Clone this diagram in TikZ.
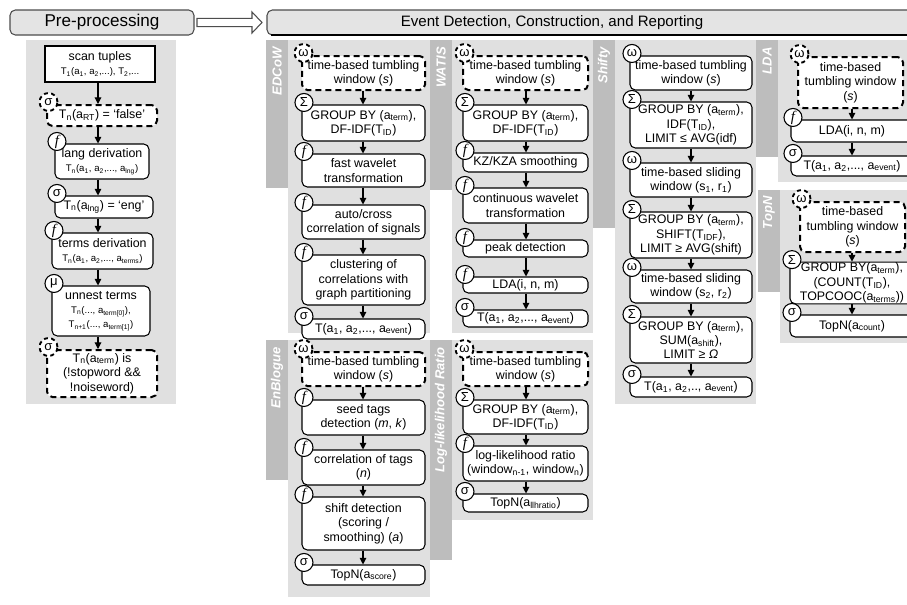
\documentclass[tikz,border=0pt]{standalone}
\usepackage{fontspec}
\setmainfont{Liberation Sans}
\newfontfamily\seriff{Liberation Serif}
\usetikzlibrary{arrows.meta}
\definecolor{panel}{HTML}{E0E0E0}
\definecolor{barc}{HTML}{BDBDBD}
\definecolor{hdr}{HTML}{E4E4E4}
\definecolor{hdrline}{HTML}{4D4D4D}
\newcommand\sml{\fontsize{7.2}{8.4}\selectfont}
\newcommand\sub[1]{\textsubscript{#1}}
\newcommand\ff{{\seriff\itshape\fontsize{11}{11}\selectfont f}}
\tikzset{
 box/.style={draw=black, fill=white, line width=0.8pt, rounded corners=4pt, align=center, inner sep=0.5pt, font=\fontsize{9.3}{10.8}\selectfont},
 sharpbox/.style={rounded corners=0pt},
 dbox/.style={line width=1.5pt, dash pattern=on 4.5pt off 3pt},
 hdrbox/.style={fill=hdr, draw=hdrline, font=\fontsize{12.8}{13}\selectfont},
 symc/.style={circle, draw=black, fill=white, line width=0.8pt, minimum size=13.5pt, inner sep=0pt, font=\fontsize{9.8}{9.8}\selectfont},
 dsym/.style={line width=1.4pt, dash pattern=on 3pt off 2.5pt},
 arr/.style={line width=0.8pt, -{Triangle[length=5pt,width=5pt]}},
 lbl/.style={rotate=90, anchor=east, text=white, inner sep=0pt, font=\fontsize{9.8}{10}\selectfont\bfseries\itshape},
 pan/.style={fill=panel, draw=none},
 barr/.style={fill=barc, draw=none}
}
% #1 style, #2 name, #3 x1, #4 y1, #5 x2, #6 y2, #7 text
\newcommand\bx[7][]{%
 \pgfmathsetmacro\bw{(#5-#3)*0.75}\pgfmathsetmacro\bh{(#6-#4)*0.75}%
 \node[box,#1,minimum width=\bw pt,minimum height=\bh pt] (#2) at ({(#3+#5)/2},{(#4+#6)/2}) {#7};}
\newcommand\op[3][]{\node[symc,#1] (#2s) at ([shift={(2.5,-2)}]#2.north west) {#3};}
\newcommand\ar[3]{\draw[arr] (#1.south -| #3) -- (#2.north -| #3);}
\begin{document}
\begin{tikzpicture}[x=0.75pt,y=-0.75pt]
\useasboundingbox (0,0) rectangle (907,604);
\clip (0,0) rectangle (907,604);
\fill[white] (0,0) rectangle (907,604);
% headers
\bx[hdrbox]{pre}{10}{10}{194}{35}{Pre-processing}
\path[draw=hdrline, fill=hdr, line width=0.8pt, rounded corners=4pt] (267,10) rectangle (960,35);
\draw[line width=1pt, black] (271,35) -- (907,35);
\node[font=\fontsize{11.3}{12}\selectfont] (evt) at (552,22.5) {Event Detection, Construction, and Reporting};
\draw[draw=hdrline, fill=white, line width=0.8pt] (197,18.3) -- (252,18.3) -- (252,12) -- (262,22.5) -- (252,33) -- (252,26.7) -- (197,26.7) -- cycle;
% panels
\path[pan] (26,40) rectangle (176,404);
\path[pan] (288,40) rectangle (430,333);
\path[barr] (266,40) rectangle (288,188);
\path[pan] (452,40) rectangle (593,333);
\path[barr] (430,40) rectangle (452,190);
\path[pan] (615,40) rectangle (756,404);
\path[barr] (593,40) rectangle (615,228);
\path[pan] (778,40) rectangle (920,182);
\path[barr] (756,40) rectangle (778,157);
\path[pan] (780,190) rectangle (920,343);
\path[barr] (758,190) rectangle (780,292);
\path[pan] (288,340) rectangle (430,597);
\path[barr] (266,340) rectangle (288,480);
\path[pan] (452,340) rectangle (593,520);
\path[barr] (430,340) rectangle (452,560);
\node[lbl] (lab1) at (277,47) {EDCoW};
\node[lbl] (lab2) at (441,47) {WATIS};
\node[lbl] (lab3) at (604,47) {Shifty};
\node[lbl] (lab4) at (767,47) {LDA};
\node[lbl] (lab5) at (769,196) {TopN};
\node[lbl] (lab6) at (277,347) {EnBlogue};
\node[lbl] (lab7) at (441,347) {Log-likelihood Ratio};
% pre-processing
\coordinate (c0) at (98,0);
\bx[sharpbox]{scan}{45}{46}{155}{82}{scan tuples\\{\sml T\sub{1}(a\sub{1}, a\sub{2},...), T\sub{2},...}}
\bx[dbox]{rt}{47}{105}{157}{126}{T\sub{n}(a\sub{RT}) = ‘false’}
\bx{lang}{55}{144}{149}{179}{lang derivation\\{\sml T\sub{n}(a\sub{1}, a\sub{2},..., a\sub{lng})}}
\bx{eng}{55}{196}{153}{218}{T\sub{n}(a\sub{lng}) = ‘eng’}
\bx{terms}{52}{233}{153}{269}{terms derivation\\{\sml T\sub{n}(a\sub{1}, a\sub{2},..., a\sub{terms})}}
\bx{unnest}{52}{286}{150}{336}{unnest terms\\{\sml T\sub{n}(..., a\sub{term[0]}),}\\{\sml T\sub{n+1}(..., a\sub{term[1]})}}
\bx[dbox]{stop}{47}{350}{157}{397}{T\sub{n}(a\sub{term}) is\\(!stopword \&\&\\!noiseword)}
\ar{scan}{rt}{c0}\ar{rt}{lang}{c0}\ar{lang}{eng}{c0}\ar{eng}{terms}{c0}\ar{terms}{unnest}{c0}\ar{unnest}{stop}{c0}
\op[dsym]{rt}{σ}\op{lang}{\ff}\op{eng}{σ}\op{terms}{\ff}\op{unnest}{μ}\op[dsym]{stop}{σ}
% EDCoW
\coordinate (c1) at (363,0);
\bx[dbox]{e1}{302}{56}{425}{90}{time-based tumbling\\window (\textit{s})}
\bx{e2}{302}{105}{425}{141}{GROUP BY (a\sub{term}),\\DF-IDF(T\sub{ID})}
\bx{e3}{302}{154}{425}{187}{fast wavelet\\transformation}
\bx{e4}{302}{205}{425}{239}{auto/cross\\correlation of signals}
\bx{e5}{302}{255}{425}{305}{clustering of\\correlations with\\graph partitioning}
\bx{e6}{302}{319}{425}{339}{T(a\sub{1}, a\sub{2},..., a\sub{event})}
\ar{e1}{e2}{c1}\ar{e2}{e3}{c1}\ar{e3}{e4}{c1}\ar{e4}{e5}{c1}\ar{e5}{e6}{c1}
\op[dsym]{e1}{ω}\op{e2}{Σ}\op{e3}{\ff}\op{e4}{\ff}\op{e5}{\ff}\op{e6}{σ}
% WATIS
\coordinate (c2) at (526,0);
\bx[dbox]{w1}{463}{56}{588}{90}{time-based tumbling\\window (\textit{s})}
\bx{w2}{463}{105}{588}{141}{GROUP BY (a\sub{term}),\\DF-IDF(T\sub{ID})}
\bx{w3}{463}{153}{588}{172}{KZ/KZA smoothing}
\bx{w4}{463}{188}{588}{223}{continuous wavelet\\transformation}
\bx{w5}{463}{240}{588}{257}{peak detection}
\bx{w6}{463}{277}{588}{293}{LDA(i, n, m)}
\bx{w7}{463}{310}{588}{327}{T(a\sub{1}, a\sub{2},..., a\sub{event})}
\ar{w1}{w2}{c2}\ar{w2}{w3}{c2}\ar{w3}{w4}{c2}\ar{w4}{w5}{c2}\ar{w5}{w6}{c2}\ar{w6}{w7}{c2}
\op[dsym]{w1}{ω}\op{w2}{Σ}\op{w3}{\ff}\op{w4}{\ff}\op{w5}{\ff}\op{w6}{\ff}\op{w7}{σ}
% Shifty
\coordinate (c3) at (691,0);
\bx{s1}{630}{56}{752}{90}{time-based tumbling\\window (\textit{s})}
\bx{s2}{630}{102}{752}{148}{GROUP BY (a\sub{term}),\\IDF(T\sub{ID}),\\LIMIT ≤ AVG(idf)}
\bx{s3}{630}{163}{752}{197}{time-based sliding\\window (s\sub{1}, r\sub{1})}
\bx{s4}{630}{212}{752}{258}{GROUP BY (a\sub{term}),\\SHIFT(T\sub{IDF}),\\LIMIT ≥ AVG(shift)}
\bx{s5}{630}{270}{752}{303}{time-based sliding\\window (s\sub{2}, r\sub{2})}
\bx{s6}{630}{317}{752}{363}{GROUP BY (a\sub{term}),\\SUM(a\sub{shift}),\\LIMIT ≥ \textit{Ω}}
\bx{s7}{630}{377}{752}{397}{T(a\sub{1}, a\sub{2},.., a\sub{event})}
\ar{s1}{s2}{c3}\ar{s2}{s3}{c3}\ar{s3}{s4}{c3}\ar{s4}{s5}{c3}\ar{s5}{s6}{c3}\ar{s6}{s7}{c3}
\op{s1}{ω}\op{s2}{Σ}\op{s3}{ω}\op{s4}{Σ}\op{s5}{ω}\op{s6}{Σ}\op{s7}{σ}
% LDA
\coordinate (c4) at (852,0);
\bx[dbox]{l1}{798}{57}{903}{108}{time-based\\tumbling window\\(\textit{s})}
\bx{l2}{791}{120}{913}{142}{LDA(i, n, m)}
\bx{l3}{791}{156}{913}{176}{T(a\sub{1}, a\sub{2},..., a\sub{event})}
\ar{l1}{l2}{c4}\ar{l2}{l3}{c4}
\op[dsym]{l1}{ω}\op{l2}{\ff}\op{l3}{σ}
% TopN
\bx[dbox]{t1}{800}{202}{905}{252}{time-based\\tumbling window\\(\textit{s})}
\bx{t2}{790}{263}{914}{303}{GROUP BY(a\sub{term}),\\(COUNT(T\sub{ID}),\\TOPCOOC(a\sub{terms}))}
\bx{t3}{790}{315}{914}{337}{TopN(a\sub{count})}
\ar{t1}{t2}{c4}\ar{t2}{t3}{c4}
\op[dsym]{t1}{ω}\op{t2}{Σ}\op{t3}{σ}
% EnBlogue
\bx[dbox]{b1}{302}{352}{425}{386}{time-based tumbling\\window (\textit{s})}
\bx{b2}{302}{400}{425}{435}{seed tags\\detection (\textit{m}, \textit{k})}
\bx{b3}{302}{450}{425}{485}{correlation of tags\\(\textit{n})}
\bx{b4}{302}{497}{425}{550}{shift detection\\(scoring /\\smoothing) (\textit{a})}
\bx{b5}{302}{565}{425}{585}{TopN(a\sub{score})}
\ar{b1}{b2}{c1}\ar{b2}{b3}{c1}\ar{b3}{b4}{c1}\ar{b4}{b5}{c1}
\op[dsym]{b1}{ω}\op{b2}{\ff}\op{b3}{\ff}\op{b4}{\ff}\op{b5}{σ}
% Log-likelihood
\bx[dbox]{r1}{463}{352}{588}{386}{time-based tumbling\\window (\textit{s})}
\bx{r2}{463}{400}{588}{434}{GROUP BY (a\sub{term}),\\DF-IDF(T\sub{ID})}
\bx{r3}{463}{446}{588}{481}{log-likelihood ratio\\(window\sub{n-1}, window\sub{n})}
\bx{r4}{463}{494}{588}{512}{TopN(a\sub{llhratio})}
\ar{r1}{r2}{c2}\ar{r2}{r3}{c2}\ar{r3}{r4}{c2}
\op[dsym]{r1}{ω}\op{r2}{Σ}\op{r3}{\ff}\op{r4}{σ}
\end{tikzpicture}
\end{document}
